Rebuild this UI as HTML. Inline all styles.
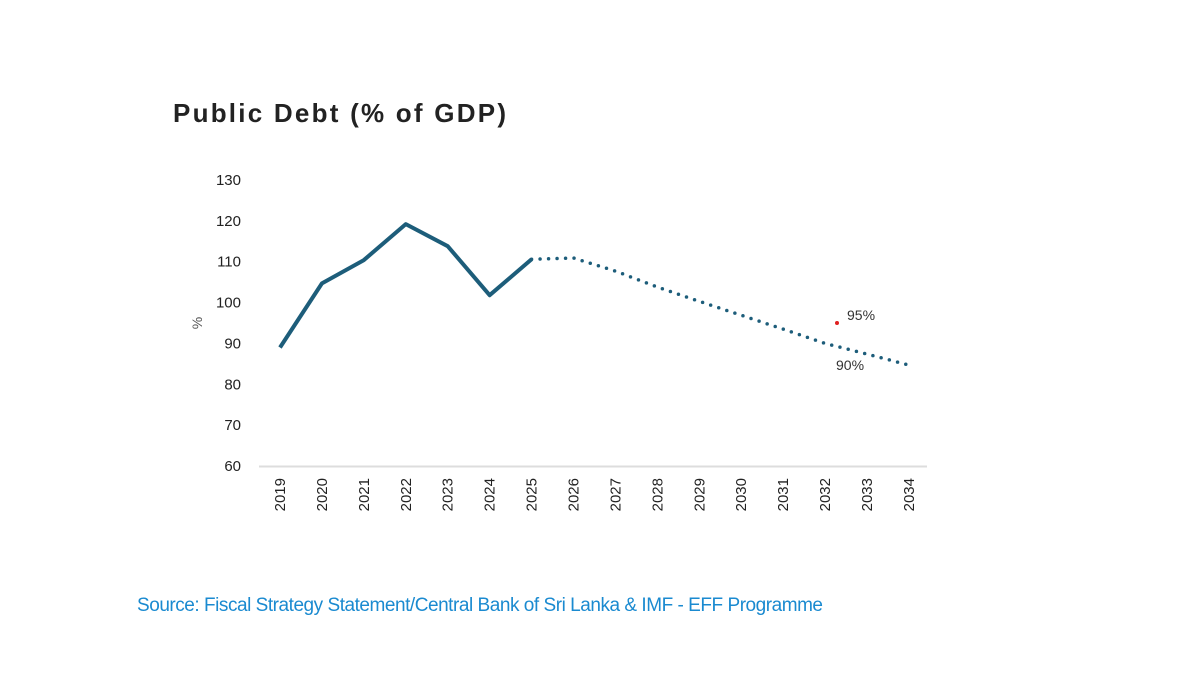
<!DOCTYPE html>
<html><head><meta charset="utf-8"><style>
body{margin:0;background:#fff;width:1200px;height:677px;overflow:hidden;font-family:"Liberation Sans",sans-serif}
</style></head><body>
<svg width="1200" height="677">
<text x="173" y="122" font-size="26" font-weight="bold" fill="#222" textLength="333">Public Debt (% of GDP)</text>
<text transform="translate(202,323) rotate(-90)" text-anchor="middle" font-size="14" fill="#555">%</text>
<line x1="259" y1="466.5" x2="927" y2="466.5" stroke="#ddd" stroke-width="2"/>
<g id="yt"></g><g id="xt"></g><g id="lines"></g>
<circle cx="837" cy="323" r="2" fill="#e02020"/>
<text x="847" y="320" font-size="14" fill="#333">95%</text>
<text x="836" y="370" font-size="14" fill="#333">90%</text>
<text x="137" y="611" font-size="19" fill="#1a8ad0" style="font-family:'Liberation Sans Narrow','Liberation Sans',sans-serif" textLength="686">Source: Fiscal Strategy Statement/Central Bank of Sri Lanka &amp; IMF - EFF Programme</text>
</svg>
<script>
const years=[2019,2020,2021,2022,2023,2024,2025,2026,2027,2028,2029,2030,2031,2032,2033,2034];
const actual=[89,104.7,110.4,119.2,113.8,101.8,110.6];
const projected=[110.6,110.9,107.7,103.8,100.3,96.9,93.5,90,87.4,84.7];
const yTicks=[60,70,80,90,100,110,120,130];
const NS="http://www.w3.org/2000/svg";
const x=i=>280+i*41.93;
const y=v=>466-(v-60)*4.086;
function mk(t,a,p){const e=document.createElementNS(NS,t);for(const k in a)e.setAttribute(k,a[k]);p.appendChild(e);return e;}
const yt=document.getElementById('yt'),xt=document.getElementById('xt'),lg=document.getElementById('lines');
yTicks.forEach(v=>{const t=mk('text',{x:241,y:y(v)+5,'text-anchor':'end','font-size':15,fill:'#222'},yt);t.textContent=v;

});
years.forEach((yr,i)=>{const t=mk('text',{transform:`translate(${x(i)+5},478) rotate(-90)`,'text-anchor':'end','font-size':15,fill:'#222'},xt);t.textContent=yr;

});
const a=mk('polyline',{points:actual.map((v,i)=>x(i)+','+y(v)).join(' '),fill:'none',stroke:'#1d5d7a','stroke-width':4,'stroke-linejoin':'round'},lg);


const off=actual.length-1;
const p=mk('polyline',{points:projected.map((v,i)=>x(i+off)+','+y(v)).join(' '),fill:'none',stroke:'#1d5d7a','stroke-width':3.5,'stroke-dasharray':'0 8.5','stroke-linecap':'round'},lg);


</script>
</body></html>
